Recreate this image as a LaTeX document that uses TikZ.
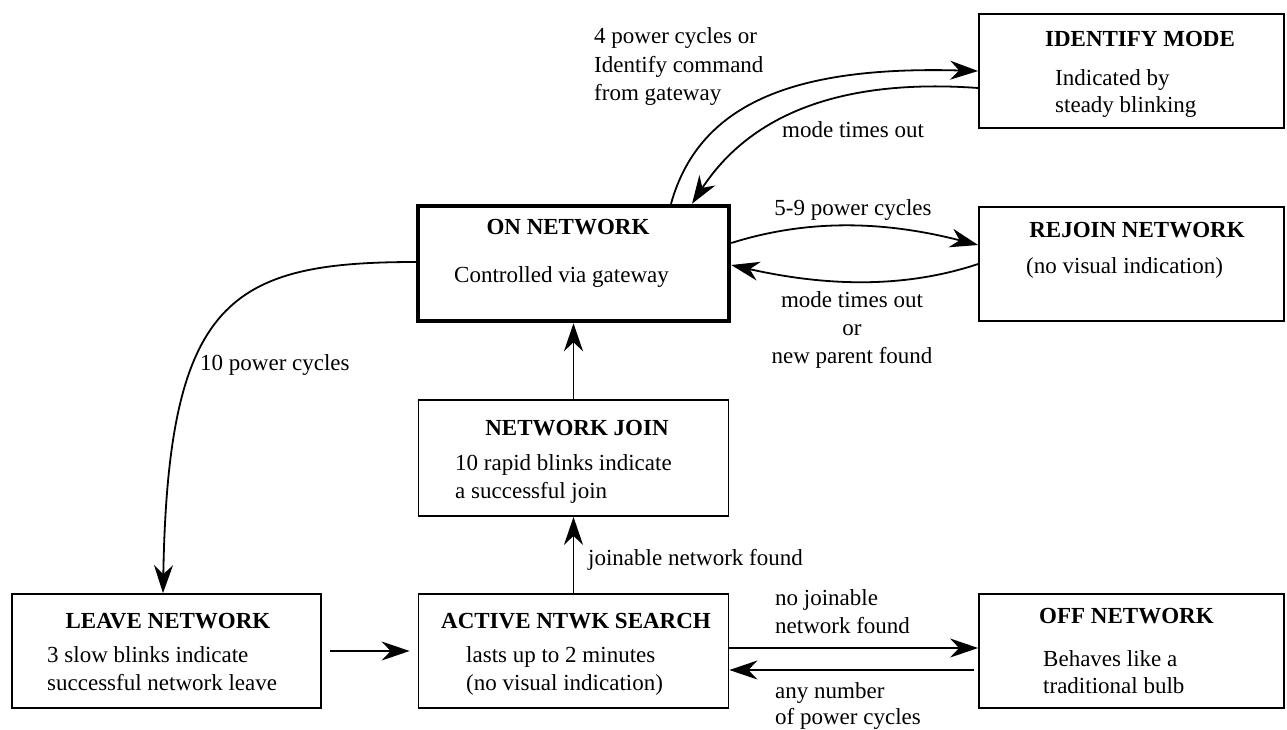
\documentclass[tikz,border=0pt]{standalone}
\usepackage{fontspec}
\setmainfont{Liberation Serif}
\usetikzlibrary{arrows.meta}
\begin{document}
\begin{tikzpicture}[x=1pt,y=-1pt,
  box/.style={draw, line width=1.8pt, inner sep=0pt},
  thickbox/.style={draw, line width=4.5pt, inner sep=0pt},
  ttl/.style={font=\fontsize{23}{27}\selectfont\bfseries, inner sep=0pt, anchor=base},
  ttlw/.style={font=\fontsize{23}{27}\selectfont\bfseries, inner sep=0pt, anchor=base west},
  txt/.style={font=\fontsize{23}{27}\selectfont, inner sep=0pt, anchor=base west},
  ctxt/.style={font=\fontsize{23}{27}\selectfont, inner sep=0pt, anchor=base},
  arr/.style={line width=1.8pt, -{Stealth[length=28pt,width=19pt,inset=9pt]}}
]
\useasboundingbox (0,0) rectangle (1287,729);

% boxes
\node[box, minimum width=305pt, minimum height=114pt] (ident) at (1131.5,71) {};
\node[thickbox, minimum width=311pt, minimum height=115pt] (on) at (573.5,263.5) {};
\node[box, minimum width=305pt, minimum height=114pt] (rejoin) at (1131.5,264) {};
\node[box, minimum width=310pt, minimum height=116pt] (join) at (573.5,458) {};
\node[box, minimum width=309pt, minimum height=114pt] (leave) at (166.5,651) {};
\node[box, minimum width=310pt, minimum height=114pt] (active) at (573.5,651) {};
\node[box, minimum width=305pt, minimum height=114pt] (off) at (1131.5,651) {};

% box texts
\node[ttl] (identT) at (1140,46) {IDENTIFY MODE};
\node[txt] (identB1) at (1055,85) {Indicated by};
\node[txt] (identB2) at (1055,112) {steady blinking};

\node[ttl] (onT) at (568,234) {ON NETWORK};
\node[txt] (onB) at (454,282) {Controlled via gateway};

\node[ttl] (rejoinT) at (1137,237) {REJOIN NETWORK};
\node[txt] (rejoinB) at (1026,273) {(no visual indication)};

\node[ttl] (joinT) at (577,435) {NETWORK JOIN};
\node[txt] (joinB1) at (455,470) {10 rapid blinks indicate};
\node[txt] (joinB2) at (455,498) {a successful join};

\node[ttl] (leaveT) at (168,628) {LEAVE NETWORK};
\node[txt] (leaveB1) at (47,662) {3 slow blinks indicate};
\node[txt] (leaveB2) at (47,690) {successful network leave};

\node[ttl] (activeT) at (576,628) {ACTIVE NTWK SEARCH};
\node[txt] (activeB1) at (466,662) {lasts up to 2 minutes};
\node[txt] (activeB2) at (466,690) {(no visual indication)};

\node[ttlw] (offT) at (1039,623) {OFF NETWORK};
\node[txt] (offB1) at (1043,666) {Behaves like a};
\node[txt] (offB2) at (1043,693) {traditional bulb};

% connectors
\draw[arr] (on.north -| 671,0) .. controls (700,100) and (800,66) .. (ident.west);
\draw[arr] (ident.west |- 0,88) .. controls (840,78) and (750,115) .. (on.north -| 692,0);
\draw[arr] (on.east |- 0,243) .. controls (820,215) and (900,225) .. (rejoin.west |- 0,245);
\draw[arr] (rejoin.west |- 0,264) .. controls (900,290) and (820,285) .. (on.east |- 0,265);
\draw[arr] (on.west |- 0,262) .. controls (230,262) and (168,300) .. (leave.north -| 163,0);
\draw[arr] (join.north) -- (on.south);
\draw[arr] (active.north) -- (join.south);
\draw[arr, shorten <=8pt, shorten >=8pt] (leave.east) -- (active.west);
\draw[arr] (active.east |- 0,648) -- (off.west |- 0,648);
\draw[arr, shorten <=4pt] (off.west |- 0,670) -- (active.east |- 0,670);

% connector labels
\node[txt] (l1a) at (594,43) {4 power cycles or};
\node[txt] (l1b) at (594,72) {Identify command};
\node[txt] (l1c) at (594,100) {from gateway};
\node[txt] (l2) at (782,137) {mode times out};
\node[ctxt] (l3) at (853,215) {5-9 power cycles};
\node[ctxt] (l4a) at (852,307) {mode times out};
\node[ctxt] (l4b) at (852,335) {or};
\node[ctxt] (l4c) at (852,363) {new parent found};
\node[txt] (l5) at (200,370) {10 power cycles};
\node[txt] (l6) at (588,565) {joinable network found};
\node[txt] (l7a) at (775,605) {no joinable};
\node[txt] (l7b) at (775,633) {network found};
\node[txt] (l8a) at (775,698) {any number};
\node[txt] (l8b) at (775,724) {of power cycles};
\end{tikzpicture}
\end{document}
